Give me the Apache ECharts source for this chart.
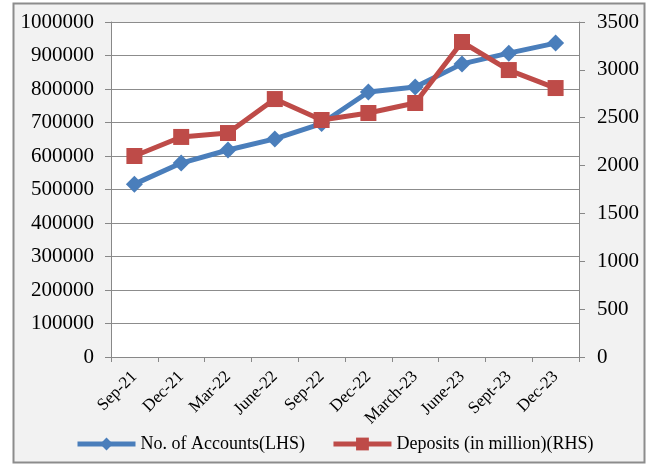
<!DOCTYPE html>
<html>
<head>
<meta charset="utf-8">
<script src="https://cdn.jsdelivr.net/npm/echarts@6/dist/echarts.min.js"></script>
<style>
html,body{margin:0;padding:0;background:#fff;}
#chart{width:648px;height:465px;}
</style>
</head>
<body>
<div id="chart"></div>
<script>
var categories = ['Sep-21','Dec-21','Mar-22','June-22','Sep-22','Dec-22','March-23','June-23','Sept-23','Dec-23']
var accounts = [516000,579000,618000,651000,697000,791000,806000,875000,907000,937000]
var deposits = [2100,2299,2340,2695,2476,2549,2654,3291,2998,2810]

var font = 'Liberation Serif'
var chart = echarts.init(document.getElementById('chart'))
chart.setOption({
    animation:false,
    backgroundColor:'#fff',
    graphic:[{
        type:'rect',
        shape:{x:13.5,y:3.5,width:631,height:459},
        style:{fill:'#f2f2f2',stroke:'#8c8c8c',lineWidth:2},
        z:-10
    },{
        type:'rect',
        shape:{x:111,y:22,width:468,height:335},
        style:{fill:'#fff'},
        z:-9
    }],
    grid:{left:111,right:69,top:22,bottom:108},
    legend:{
        top:430,
        left:70,
        itemWidth:58,
        itemHeight:16,
        itemGap:26,
        textStyle:{fontFamily:font,fontSize:18,color:'#000'},
        lineStyle:{width:5},
        data:['No. of Accounts(LHS)','Deposits (in million)(RHS)']
    },
    xAxis:{
        type:'category',
        data:categories,
        axisLine:{lineStyle:{color:'#888',width:1}},
        axisTick:{show:true,lineStyle:{color:'#888'},length:5},
        axisLabel:{rotate:45,fontFamily:font,fontSize:17,color:'#000',margin:17}
    },
    yAxis:[{
        type:'value',
        min:0,max:1000000,interval:100000,
        axisLine:{show:true,lineStyle:{color:'#888'}},
        axisTick:{show:true,lineStyle:{color:'#888'},length:6},
        splitLine:{lineStyle:{color:'#8c8c8c',width:1}},
        axisLabel:{fontFamily:font,fontSize:21,color:'#000',margin:17,formatter:function(v){return String(v)}}
    },{
        type:'value',
        min:0,max:3500,interval:500,
        position:'right',
        axisLine:{show:true,lineStyle:{color:'#888'}},
        axisTick:{show:true,lineStyle:{color:'#888'},length:6},
        splitLine:{show:false},
        axisLabel:{fontFamily:font,fontSize:21,color:'#000',margin:18,formatter:function(v){return String(v)}}
    }],
    series:[{
        name:'No. of Accounts(LHS)',
        type:'line',
        yAxisIndex:0,
        data:accounts,
        symbol:'diamond',
        symbolSize:17,
        itemStyle:{color:'#4a7ebb'},
        lineStyle:{color:'#4a7ebb',width:5}
    },{
        name:'Deposits (in million)(RHS)',
        type:'line',
        yAxisIndex:1,
        data:deposits,
        symbol:'rect',
        symbolSize:16,
        itemStyle:{color:'#be4b48'},
        lineStyle:{color:'#be4b48',width:5}
    }]
})
</script>
</body>
</html>
